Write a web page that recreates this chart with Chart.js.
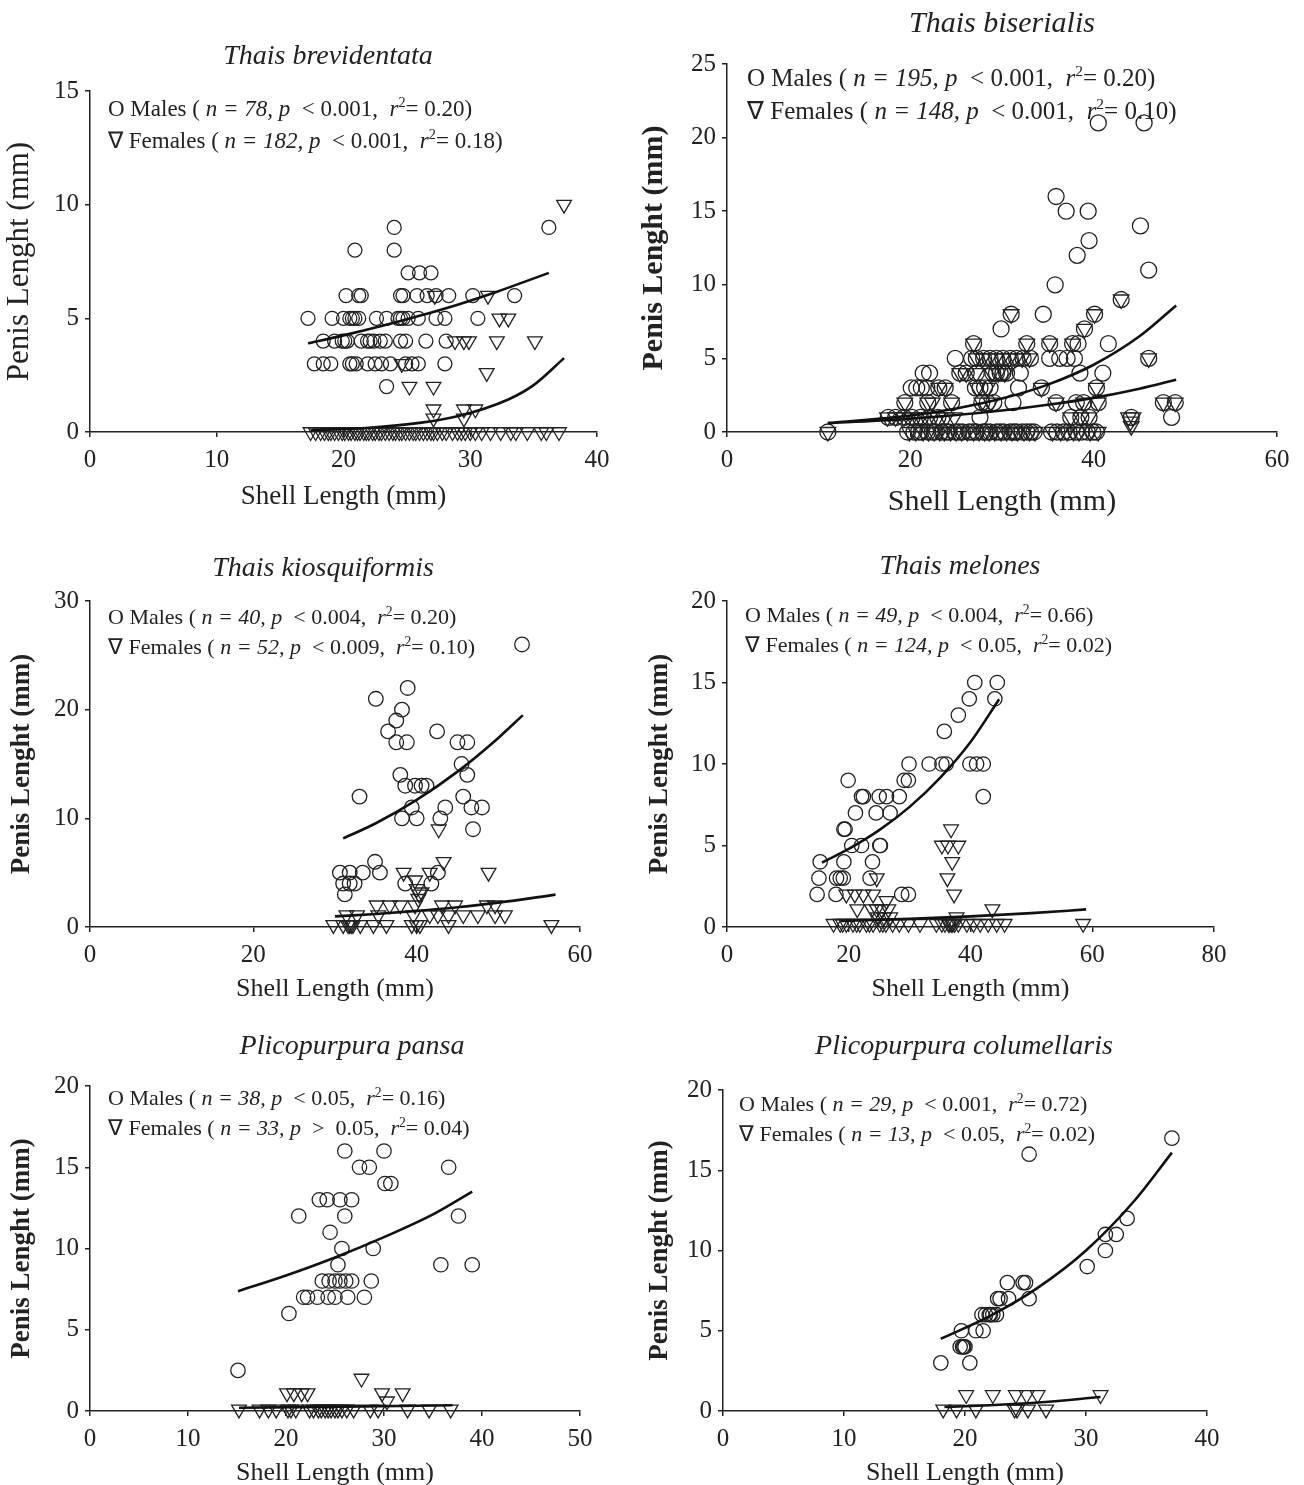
<!DOCTYPE html>
<html lang="en">
<head>
<meta charset="UTF-8" />
<title>Penis length vs shell length</title>
<script src="https://cdn.jsdelivr.net/npm/chart.js"></script>
<style>
  html, body { margin: 0; padding: 0; background: #fff; width: 1304px; height: 1485px; overflow: hidden; }
  body { position: relative; font-family: "Liberation Serif", "Times New Roman", serif; color: #222; }
  canvas { position: absolute; }
  .title { position: absolute; font-style: italic; white-space: nowrap; transform: translate(-50%, -50%); line-height: 1; }
  .leg { position: absolute; white-space: pre; transform: translateY(-50%); line-height: 1; }
  .leg sup { font-size: 62%; vertical-align: 0.6em; line-height: 0; }
</style>
</head>
<body>
<script>
// ---- Thais brevidentata ----
const brevMales = [
  [24.0, 9], [36.2, 9], [20.9, 8], [24.0, 8], [25.1, 7], [26.0, 7], [26.9, 7],
  [20.2, 6], [21.2, 6], [21.4, 6], [24.5, 6], [24.7, 6], [25.8, 6], [26.6, 6], [27.3, 6], [28.3, 6], [30.2, 6], [33.5, 6],
  [17.2, 5], [19.1, 5], [20.0, 5], [20.5, 5], [20.7, 5], [20.9, 5], [21.2, 5], [22.6, 5], [23.4, 5], [24.3, 5], [24.5, 5], [24.7, 5], [25.1, 5], [25.9, 5], [27.3, 5], [28.0, 5], [30.6, 5],
  [18.4, 4], [19.3, 4], [19.9, 4], [20.1, 4], [20.3, 4], [21.4, 4], [21.9, 4], [22.1, 4], [22.4, 4], [22.9, 4], [23.3, 4], [24.5, 4], [24.9, 4], [26.5, 4], [28.1, 4],
  [17.7, 3], [18.4, 3], [19.0, 3], [20.5, 3], [20.7, 3], [21.0, 3], [21.9, 3], [22.5, 3], [23.0, 3], [23.7, 3], [24.9, 3], [25.4, 3], [25.9, 3], [28.0, 3],
  [23.4, 2]
];
const brevFemales = [
  [37.4, 10], [27.2, 6], [31.4, 6], [32.3, 5], [33.0, 5],
  [28.8, 4], [29.5, 4], [29.9, 4], [32.1, 4], [35.1, 4], [24.6, 3], [31.3, 2.6],
  [25.2, 2], [27.1, 2], [27.1, 1], [29.5, 1], [30.4, 1], [27.1, 0.6], [29.5, 0.6],
  [17.4, 0], [17.8, 0], [18.2, 0], [18.5, 0], [18.8, 0], [19.0, 0], [19.3, 0], [19.6, 0], [19.9, 0], [20.1, 0],
  [20.4, 0], [20.6, 0], [20.9, 0], [21.1, 0], [21.3, 0], [21.6, 0], [21.8, 0], [22.0, 0], [22.3, 0], [22.5, 0],
  [22.8, 0], [23.0, 0], [23.3, 0], [23.6, 0], [23.9, 0], [24.1, 0], [24.4, 0], [24.6, 0], [24.9, 0], [25.2, 0],
  [25.5, 0], [25.7, 0], [26.0, 0], [26.3, 0], [26.6, 0], [26.9, 0], [27.1, 0], [27.4, 0], [27.8, 0], [28.1, 0],
  [28.6, 0], [29.0, 0], [29.3, 0], [29.6, 0], [30.0, 0], [30.4, 0], [30.9, 0], [31.6, 0], [32.4, 0], [33.2, 0],
  [33.6, 0], [34.5, 0], [35.6, 0], [36.0, 0], [37.0, 0]
];
const brevMaleFit = [[17.2, 3.9], [20, 4.25], [23, 4.66], [26, 5.11], [29, 5.6], [32, 6.15], [36.2, 7.0]];
const brevFemaleFit = [[17.4, 0.08], [22, 0.19], [26, 0.4], [29, 0.69], [33, 1.43], [35, 2.06], [37.4, 3.25]];

// ---- Thais biserialis ----
const biserMales = [
  [40.5, 21], [45.5, 21], [35.9, 16], [37.0, 15], [39.4, 15], [45.1, 14], [39.5, 13], [38.2, 12], [46.0, 11],
  [35.8, 10], [43.0, 9], [31.0, 8], [34.5, 8], [40.1, 8], [29.9, 7], [39.0, 7],
  [26.9, 6], [32.7, 6], [35.2, 6], [37.7, 6], [38.3, 6], [41.6, 6],
  [24.9, 5], [26.7, 5], [27.2, 5], [28.0, 5], [28.7, 5], [29.4, 5], [30.1, 5], [30.9, 5], [31.6, 5], [32.3, 5], [33.1, 5], [35.2, 5], [36.3, 5], [37.1, 5], [37.9, 5], [46.0, 5],
  [21.4, 4], [22.1, 4], [25.4, 4], [26.1, 4], [27.2, 4], [29.0, 4], [29.4, 4], [29.8, 4], [30.1, 4], [30.5, 4], [32.0, 4], [38.5, 4], [41.0, 4],
  [20.1, 3], [20.7, 3], [21.2, 3], [21.8, 3], [23.1, 3], [23.8, 3], [27.1, 3], [27.6, 3], [28.1, 3], [28.7, 3], [31.8, 3], [34.3, 3], [40.3, 3],
  [19.4, 2], [21.9, 2], [24.5, 2], [27.8, 2], [28.4, 2], [29.1, 2], [31.2, 2], [35.9, 2], [38.1, 2], [38.9, 2], [40.5, 2], [47.6, 2], [48.9, 2],
  [17.6, 1], [18.4, 1], [19.3, 1], [20.2, 1], [21.1, 1], [22.1, 1], [23.0, 1], [27.6, 1], [37.5, 1], [38.6, 1], [39.5, 1], [44.1, 1], [48.5, 1],
  [11.0, 0], [19.7, 0], [20.4, 0], [20.9, 0], [21.2, 0], [21.9, 0], [22.4, 0], [22.7, 0], [23.4, 0], [23.9, 0],
  [24.2, 0], [24.9, 0], [25.3, 0], [25.7, 0], [26.4, 0], [26.8, 0], [27.2, 0], [27.9, 0], [28.3, 0], [28.7, 0],
  [29.4, 0], [29.8, 0], [30.2, 0], [30.9, 0], [31.3, 0], [31.6, 0], [32.2, 0], [32.7, 0], [33.1, 0], [33.5, 0],
  [35.4, 0], [36.0, 0], [36.7, 0], [37.3, 0], [38.1, 0], [38.7, 0], [39.3, 0], [39.9, 0], [40.3, 0]
];
const biserFemales = [
  [43.0, 9], [31.0, 8], [40.1, 8], [39.0, 7], [26.9, 6], [32.7, 6], [35.2, 6], [37.7, 6],
  [27.2, 5], [27.9, 5], [28.6, 5], [29.3, 5], [30.0, 5], [30.8, 5], [31.5, 5], [32.2, 5], [33.0, 5], [46.0, 5],
  [25.4, 4], [26.1, 4], [27.2, 4], [28.9, 4], [29.6, 4], [30.3, 4],
  [23.1, 3], [23.8, 3], [27.3, 3], [28.4, 3], [34.3, 3], [40.3, 3],
  [19.4, 2], [21.9, 2], [22.4, 2], [24.5, 2], [27.8, 2], [28.8, 2], [35.9, 2], [38.9, 2], [40.5, 2], [47.6, 2], [48.9, 2],
  [17.5, 1], [18.4, 1], [19.3, 1], [20.2, 1], [21.1, 1], [22.1, 1], [23.0, 1], [23.9, 1], [24.8, 1], [37.5, 1], [38.6, 1], [39.5, 1], [43.8, 1], [44.3, 1],
  [44.0, 0.7], [44.1, 0.4],
  [11.0, 0], [19.9, 0], [20.6, 0], [21.4, 0], [22.0, 0], [22.6, 0], [23.2, 0], [23.7, 0], [24.4, 0], [25.0, 0],
  [25.6, 0], [26.2, 0], [26.9, 0], [27.5, 0], [28.1, 0], [28.6, 0], [29.2, 0], [29.9, 0], [30.5, 0], [31.1, 0],
  [31.7, 0], [32.4, 0], [33.0, 0], [33.6, 0], [35.5, 0], [36.4, 0], [37.1, 0], [37.8, 0], [38.4, 0], [39.6, 0], [40.5, 0]
];
const biserMaleFit = [[11, 0.6], [20, 1.12], [25, 1.6], [30, 2.27], [35, 3.22], [40, 4.57], [45, 6.5], [49, 8.6]];
const biserFemaleFit = [[11, 0.6], [20, 0.91], [25, 1.15], [30, 1.46], [35, 1.85], [40, 2.32], [45, 2.94], [49, 3.55]];

// ---- Thais kiosquiformis ----
const kiosMales = [
  [52.9, 26], [38.9, 22], [35.0, 21], [38.2, 20], [37.5, 19], [36.5, 18], [42.5, 18],
  [37.5, 17], [38.8, 17], [45.0, 17], [46.2, 17], [45.5, 15], [38.0, 14], [46.2, 14],
  [38.6, 13], [39.8, 13], [40.6, 13], [41.2, 13], [33.0, 12], [45.7, 12],
  [39.4, 11], [43.5, 11], [46.7, 11], [48.0, 11], [38.2, 10], [40.0, 10], [42.9, 10], [46.9, 9], [34.9, 6],
  [30.6, 5], [31.8, 5], [33.4, 5], [35.5, 5], [42.6, 5], [31.0, 4], [31.8, 4], [32.4, 4], [38.6, 4], [41.8, 4], [31.2, 3]
];
const kiosFemales = [
  [42.7, 9], [43.3, 6], [38.4, 5], [41.6, 5], [48.8, 5], [39.8, 4.3], [40.0, 3.5], [40.6, 3.2], [40.3, 3.0], [40.2, 2.6],
  [35.1, 2], [36.7, 2], [38.0, 2], [39.8, 2], [43.1, 2], [44.7, 2], [48.6, 2], [49.6, 2],
  [31.4, 1.1], [32.7, 1.1], [35.3, 1.1], [39.6, 1.1], [41.6, 1.1], [42.6, 1.1], [43.9, 1.1], [45.7, 1.1], [47.5, 1.1], [49.6, 1.1], [50.8, 1.1],
  [29.8, 0.2], [31.0, 0.2], [31.6, 0.2], [31.8, 0.2], [32.0, 0.2], [32.2, 0.2], [33.1, 0.2], [34.7, 0.2], [36.3, 0.2], [39.4, 0.2], [40.0, 0.2], [40.4, 0.2], [43.9, 0.2], [56.5, 0.2]
];
const kiosMaleFit = [[31, 8.15], [35, 9.55], [40, 11.7], [45, 14.3], [50, 17.4], [53, 19.5]];
const kiosFemaleFit = [[30, 0.98], [35, 1.2], [40, 1.48], [45, 1.82], [50, 2.24], [57, 2.98]];

// ---- Thais melones ----
const melMales = [
  [40.7, 15], [44.4, 15], [39.8, 14], [44.0, 14], [38.0, 13], [35.7, 12],
  [29.9, 10], [33.2, 10], [35.3, 10], [36.0, 10], [39.9, 10], [41.0, 10], [42.1, 10],
  [19.9, 9], [29.1, 9], [29.8, 9], [22.1, 8], [22.4, 8], [25.0, 8], [26.2, 8], [28.3, 8], [42.1, 8],
  [21.1, 7], [24.5, 7], [26.8, 7], [19.2, 6], [19.4, 6], [20.5, 5], [22.1, 5], [25.1, 5], [25.2, 5],
  [15.3, 4], [19.2, 4], [23.9, 4], [15.1, 3], [18.0, 3], [18.6, 3], [19.1, 3], [23.5, 3],
  [14.8, 2], [17.9, 2], [28.7, 2], [29.8, 2]
];
const melFemales = [
  [36.8, 6], [35.3, 5], [36.3, 5], [38.0, 5], [37.0, 4], [36.2, 3], [24.6, 3],
  [37.3, 2], [19.6, 2], [21.0, 2], [22.4, 2], [24.0, 2], [26.2, 1.6],
  [21.4, 1.1], [23.8, 1.1], [24.6, 1.1], [25.4, 1.1], [26.5, 1.1], [43.6, 1.1],
  [37.7, 0.6], [24.8, 0.6], [25.8, 0.6], [26.8, 0.6],
  [17.5, 0.2], [18.6, 0.2], [19.0, 0.2], [19.6, 0.2], [20.7, 0.2], [21.3, 0.2], [21.8, 0.2], [22.9, 0.2], [23.4, 0.2],
  [24.0, 0.2], [25.1, 0.2], [25.6, 0.2], [26.1, 0.2], [27.2, 0.2], [28.3, 0.2], [29.8, 0.2], [31.7, 0.2], [34.4, 0.2],
  [35.3, 0.2], [35.8, 0.2], [36.4, 0.2], [36.6, 0.2], [36.9, 0.2], [37.1, 0.2], [37.4, 0.2], [38.0, 0.2], [39.4, 0.2],
  [40.5, 0.2], [41.6, 0.2], [42.9, 0.2], [44.3, 0.2], [45.6, 0.2], [58.5, 0.2]
];
const melMaleFit = [[15.6, 3.95], [20, 4.79], [25, 5.94], [30, 7.37], [35, 9.15], [40, 11.35], [44.7, 13.97]];
const melFemaleFit = [[18.7, 0.37], [30, 0.5], [40, 0.65], [50, 0.85], [59, 1.08]];

// ---- Plicopurpura pansa ----
const pansaMales = [
  [26.0, 16], [30.0, 16], [27.5, 15], [28.5, 15], [36.6, 15], [30.1, 14], [30.7, 14],
  [23.4, 13], [24.2, 13], [25.5, 13], [26.7, 13], [21.3, 12], [26.0, 12], [37.6, 12], [24.5, 11],
  [25.7, 10], [28.9, 10], [25.3, 9], [35.8, 9], [39.0, 9],
  [23.7, 8], [24.4, 8], [25.0, 8], [25.5, 8], [26.1, 8], [26.7, 8], [28.7, 8],
  [21.8, 7], [22.2, 7], [23.2, 7], [24.3, 7], [25.0, 7], [26.3, 7], [28.0, 7], [20.3, 6], [15.1, 2.5]
];
const pansaFemales = [
  [27.7, 2], [20.1, 1.1], [20.8, 1.1], [21.6, 1.1], [22.2, 1.1], [29.8, 1.1], [31.9, 1.1], [30.3, 0.6],
  [15.2, 0.1], [17.3, 0.1], [18.2, 0.1], [19.0, 0.1], [20.2, 0.1], [20.5, 0.1], [21.0, 0.1], [22.4, 0.1],
  [22.8, 0.1], [23.3, 0.1], [23.6, 0.1], [24.0, 0.1], [24.3, 0.1], [24.6, 0.1], [25.0, 0.1], [25.3, 0.1],
  [25.7, 0.1], [26.2, 0.1], [26.9, 0.1], [28.6, 0.1], [29.4, 0.1], [32.4, 0.1], [34.6, 0.1], [36.8, 0.1]
];
const pansaMaleFit = [[15.1, 7.37], [20, 8.34], [25, 9.45], [30, 10.7], [35, 12.1], [39, 13.5]];
const pansaFemaleFit = [[15.2, 0.2], [26, 0.27], [37, 0.35]];

// ---- Plicopurpura columellaris ----
const columMales = [
  [37.1, 17], [25.3, 16], [33.4, 12], [31.6, 11], [32.5, 11], [31.6, 10], [30.1, 9],
  [23.5, 8], [24.8, 8], [25.0, 8], [22.7, 7], [22.9, 7], [23.6, 7], [25.3, 7],
  [21.4, 6], [21.7, 6], [22.0, 6], [22.1, 6], [22.3, 6], [22.6, 6],
  [19.7, 5], [20.9, 5], [21.5, 5], [19.6, 4], [19.8, 4], [19.9, 4], [20.0, 4], [18.0, 3], [20.4, 3]
];
const columFemales = [
  [20.1, 1], [22.3, 1], [24.2, 1], [25.1, 1], [26.0, 1], [31.2, 1],
  [18.2, 0.1], [19.3, 0.1], [20.9, 0.1], [24.1, 0.1], [24.3, 0.1], [25.2, 0.1], [26.7, 0.1]
];
const columMaleFit = [[18, 4.5], [22, 5.89], [26, 7.67], [30, 10.0], [34, 13.1], [37.1, 16.1]];
const columFemaleFit = [[18.3, 0.25], [22, 0.36], [26, 0.53], [31.2, 0.87]];

// legend statistics: [n, p sign, p, r2] for males and females
const legendStats = [
  [['78', '<', '0.001', '0.20'], ['182', '<', '0.001', '0.18']],
  [['195', '<', '0.001', '0.20'], ['148', '<', '0.001', '0.10']],
  [['40', '<', '0.004', '0.20'], ['52', '<', '0.009', '0.10']],
  [['49', '<', '0.004', '0.66'], ['124', '<', '0.05', '0.02']],
  [['38', '<', '0.05', '0.16'], ['33', '>', ' 0.05', '0.04']],
  [['29', '<', '0.001', '0.72'], ['13', '<', '0.05', '0.02']]
];
const speciesNames = ['Thais brevidentata', 'Thais biserialis', 'Thais kiosquiformis', 'Thais melones', 'Plicopurpura pansa', 'Plicopurpura columellaris'];

// layout of each panel (page pixels)
const panels = [
  { box: [0, 40, 627, 485], ax: [90, 597, 91, 432], xMax: 40, xStep: 10, yMax: 15, yStep: 5, yTitleX: 20, xTitleY: 497, yBold: false, yTitleSize: 31, xTitleSize: 27,
    title: [328, 55, 28], leg: [108, 108, 140, 23], males: brevMales, females: brevFemales, mFit: brevMaleFit, fFit: brevFemaleFit, cr: 7, tr: 8.5 },
  { box: [630, 20, 677, 510], ax: [727, 1277, 64, 432], xMax: 60, xStep: 20, yMax: 25, yStep: 5, yTitleX: 654, xTitleY: 502, yBold: true, yTitleSize: 30, xTitleSize: 30,
    title: [1002, 22, 30], leg: [747, 77, 110, 25], males: biserMales, females: biserFemales, mFit: biserMaleFit, fFit: biserFemaleFit, cr: 8, tr: 9 },
  { box: [0, 560, 610, 455], ax: [90, 580, 601, 927], xMax: 60, xStep: 20, yMax: 30, yStep: 10, yTitleX: 22, xTitleY: 989, yBold: true, yTitleSize: 27, xTitleSize: 26,
    title: [323, 567, 28], leg: [108, 617, 647, 22], males: kiosMales, females: kiosFemales, mFit: kiosMaleFit, fFit: kiosFemaleFit, cr: 7.3, tr: 8.5 },
  { box: [630, 560, 614, 455], ax: [727, 1214, 601, 927], xMax: 80, xStep: 20, yMax: 20, yStep: 5, yTitleX: 660, xTitleY: 989, yBold: true, yTitleSize: 27, xTitleSize: 26,
    title: [960, 565, 28], leg: [745, 615, 645, 22], males: melMales, females: melFemales, mFit: melMaleFit, fFit: melFemaleFit, cr: 7.2, tr: 8.5 },
  { box: [0, 1045, 610, 445], ax: [90, 580, 1086, 1411], xMax: 50, xStep: 10, yMax: 20, yStep: 5, yTitleX: 22, xTitleY: 1473, yBold: true, yTitleSize: 27, xTitleSize: 26,
    title: [352, 1045, 28], leg: [108, 1098, 1128, 22], males: pansaMales, females: pansaFemales, mFit: pansaMaleFit, fFit: pansaFemaleFit, cr: 7.2, tr: 8.5 },
  { box: [630, 1045, 607, 445], ax: [723, 1207, 1090, 1411], xMax: 40, xStep: 10, yMax: 20, yStep: 5, yTitleX: 660, xTitleY: 1473, yBold: true, yTitleSize: 27, xTitleSize: 26,
    title: [964, 1045, 28], leg: [739, 1104, 1134, 22], males: columMales, females: columFemales, mFit: columMaleFit, fFit: columFemaleFit, cr: 7.2, tr: 8.5 }
];

Chart.defaults.font.family = "'Liberation Serif', 'Times New Roman', serif";
Chart.defaults.color = '#222';

const toPts = arr => arr.map(([x, y]) => ({ x, y }));

function addText(cls, html, left, top, size) {
  const d = document.createElement('div');
  d.className = cls;
  d.innerHTML = html;
  d.style.left = left + 'px';
  d.style.top = top + 'px';
  d.style.fontSize = size + 'px';
  document.body.appendChild(d);
}

function legendLine(symbol, label, s) {
  return `${symbol} ${label} ( <i>n = ${s[0]}, p</i>  ${s[1] === '<' ? '&lt;' : '&gt;'} ${s[2]},  <i>r</i><sup>2</sup>= ${s[3]})`;
}

panels.forEach((p, i) => {
  const [L, T, W, H] = p.box;
  const [axL, axR, axT, axB] = p.ax;
  const canvas = document.createElement('canvas');
  canvas.width = W;
  canvas.height = H;
  canvas.style.left = L + 'px';
  canvas.style.top = T + 'px';
  document.body.appendChild(canvas);

  const fitLine = data => ({
    type: 'line', data: toPts(data), borderColor: '#111', borderWidth: 2.6,
    pointRadius: 0, fill: false, tension: 0.4, cubicInterpolationMode: 'monotone', clip: false
  });

  const axisStyle = {
    grid: { display: true, drawOnChartArea: false, drawTicks: true, tickLength: 5, color: '#222', lineWidth: 1.5 },
    border: { display: true, color: '#222', width: 1.5 }
  };

  new Chart(canvas, {
    type: 'scatter',
    data: {
      datasets: [
        fitLine(p.mFit),
        fitLine(p.fFit),
        { data: toPts(p.males), pointStyle: 'circle', radius: p.cr, borderColor: '#222', borderWidth: 1.3, backgroundColor: 'rgba(0,0,0,0)', clip: false },
        { data: toPts(p.females), pointStyle: 'triangle', rotation: 180, radius: p.tr, borderColor: '#222', borderWidth: 1.3, backgroundColor: 'rgba(0,0,0,0)', clip: false }
      ]
    },
    options: {
      responsive: false,
      animation: false,
      devicePixelRatio: 1,
      layout: { padding: { left: 0, right: L + W - axR, top: axT - T, bottom: 0 } },
      plugins: { legend: { display: false }, tooltip: { enabled: false } },
      scales: {
        x: {
          type: 'linear', min: 0, max: p.xMax,
          ...axisStyle,
          ticks: { stepSize: p.xStep, padding: 8, font: { size: 25 }, color: '#222' },
          title: {
            display: true, text: 'Shell Length (mm)', color: '#222',
            font: { size: p.xTitleSize, lineHeight: 1 },
            padding: { top: 0, bottom: T + H - p.xTitleY - p.xTitleSize / 2 }
          },
          afterFit: s => { s.height = T + H - axB; }
        },
        y: {
          type: 'linear', min: 0, max: p.yMax,
          ...axisStyle,
          ticks: { stepSize: p.yStep, padding: 6, font: { size: 25 }, color: '#222' },
          title: {
            display: true, text: 'Penis Lenght (mm)', color: '#222',
            font: { size: p.yTitleSize, weight: p.yBold ? 'bold' : 'normal', lineHeight: 1 },
            padding: { top: p.yTitleX - L - p.yTitleSize / 2, bottom: 0 }
          },
          afterFit: s => { s.width = axL - L; }
        }
      }
    }
  });

  addText('title', speciesNames[i], p.title[0], p.title[1], p.title[2]);
  addText('leg', legendLine('O', 'Males', legendStats[i][0]), p.leg[0], p.leg[1], p.leg[3]);
  addText('leg', legendLine('\u2207', 'Females', legendStats[i][1]), p.leg[0], p.leg[2], p.leg[3]);
});
</script>
</body>
</html>
